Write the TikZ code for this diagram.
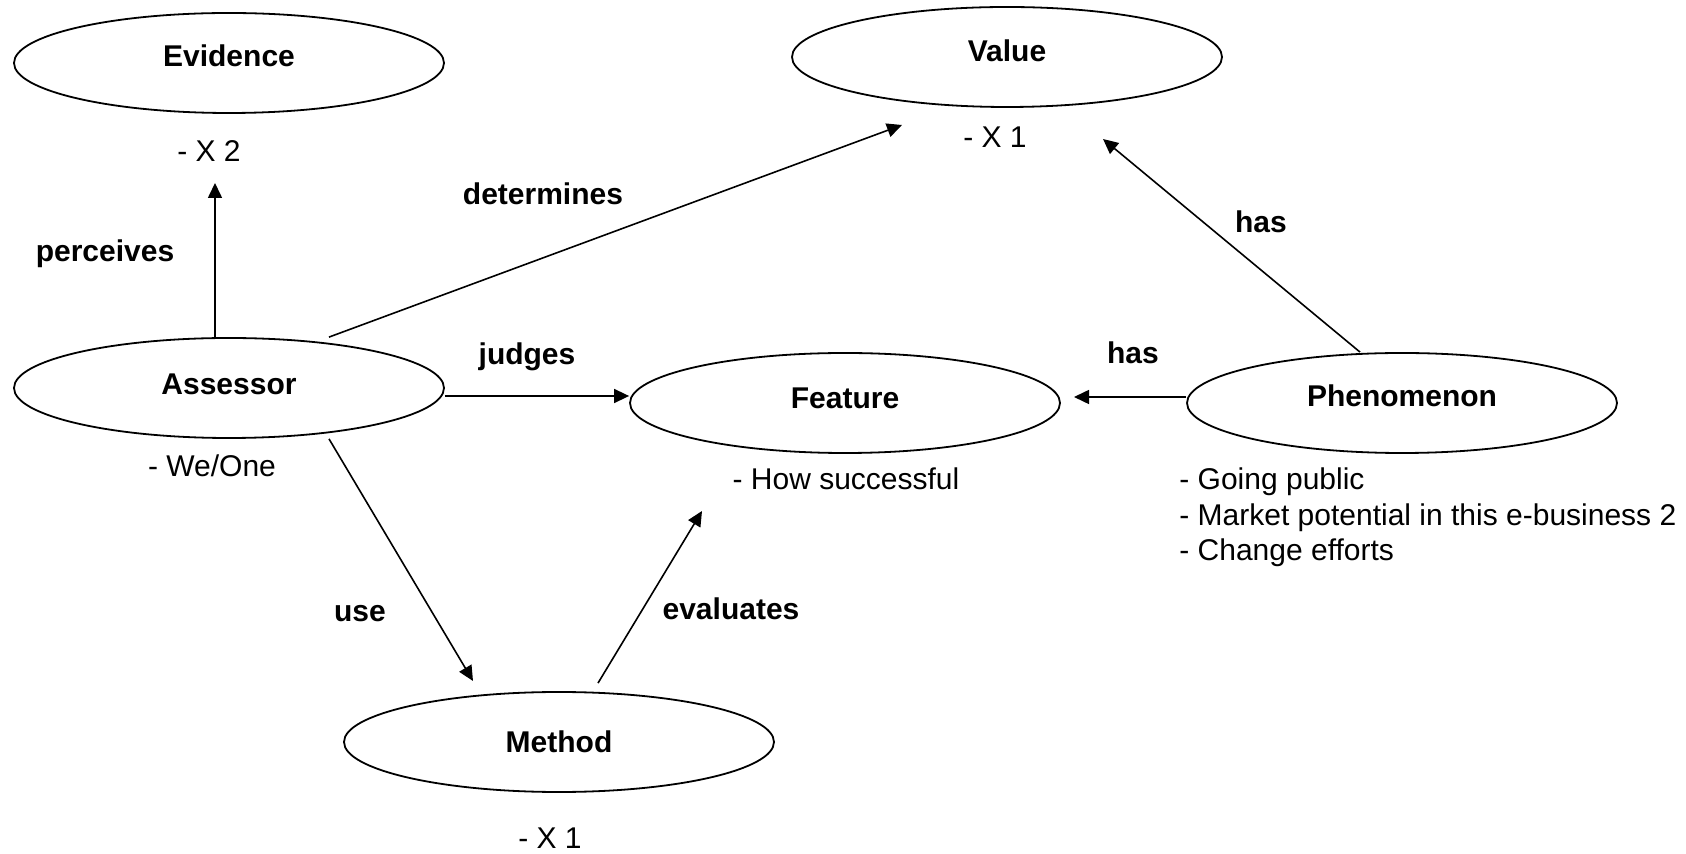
\documentclass[tikz,border=0pt]{standalone}
\usepackage{fontspec}
\setmainfont{Liberation Sans}
\usetikzlibrary{shapes.geometric,arrows.meta,calc}
\begin{document}
\begin{tikzpicture}[x=0.5pt,y=-0.5pt,
  concept/.style={ellipse,draw,line width=0.9pt,minimum width=215pt,
    minimum height=50pt,inner sep=0pt,font=\fontsize{15}{18}\selectfont\bfseries},
  rel/.style={font=\fontsize{15}{18}\selectfont\bfseries,anchor=base,inner sep=0pt},
  note/.style={font=\fontsize{15}{18}\selectfont,anchor=base,inner sep=0pt},
  link/.style={line width=0.8pt,-{Triangle[length=7.5pt,width=7pt]}}]
\useasboundingbox (0,0) rectangle (1686,854);

% concepts (text depth lifts the label a little above the centre)
\node[concept,text depth=7pt] (evidence)   at (229,63)  {Evidence};
\node[concept,text depth=6pt] (value)      at (1007,57) {Value};
\node[concept,text depth=4pt] (assessor)   at (229,388) {Assessor};
\node[concept,text depth=5pt] (feature)    at (845,403) {Feature};
\node[concept,text depth=7pt] (phenomenon) at (1402,403) {Phenomenon};
\node[concept] (method)     at (559,742) {Method};

% notes under the concepts
\node[note] (nEvidence) at (209,162) {- X 2};
\node[note] (nValue)    at (995,148) {- X 1};
\node[note] (nAssessor) at (212,477) {- We/One};
\node[note] (nFeature)  at (846,490) {- How successful};
\node[note] (nMethod)   at (550,848) {- X 1};
\node[note,anchor=base west] (nPhen1) at (1179,490) {- Going public};
\node[note,anchor=base west] (nPhen2) at (1179,525.5) {- Market potential in this e-business 2};
\node[note,anchor=base west] (nPhen3) at (1179,561) {- Change efforts};

% relation labels
\node[rel] (lPerceives)  at (105,262)  {perceives};
\node[rel] (lDetermines) at (543,205)  {determines};
\node[rel] (lJudges)     at (527,365)  {judges};
\node[rel] (lHasTop)     at (1261,233) {has};
\node[rel] (lHasMid)     at (1133,364) {has};
\node[rel] (lUse)        at (360,622)  {use};
\node[rel] (lEvaluates)  at (731,620)  {evaluates};

% arrow ends and starts
\coordinate (tipEvidence) at (215,183);
\coordinate (tipValueL)   at (902,125);
\coordinate (tipValueR)   at (1103,139);
\coordinate (tipFeatureR) at (1074,397);
\coordinate (tipMethod)   at (473,681);
\coordinate (tipFeatureB) at (702,511);
\coordinate (judgeStart)  at ($(assessor.east)+(0,8)$);

% relations
\draw[link] ($(assessor.north)+(-14,0)$) -- (tipEvidence);
\draw[link] ($(assessor.north)+(100,0)$) -- (tipValueL);
\draw[link] (judgeStart) -- (judgeStart -| feature.west);
\draw[link] ($(assessor.south)+(100,0)$) -- (tipMethod);
\draw[link] ($(method.north)+(39,-8)$) -- (tipFeatureB);
\draw[link] ($(phenomenon.west)+(0,-6)$) -- (tipFeatureR);
\draw[link] ($(phenomenon.north)+(-42,0)$) -- (tipValueR);
\end{tikzpicture}
\end{document}
